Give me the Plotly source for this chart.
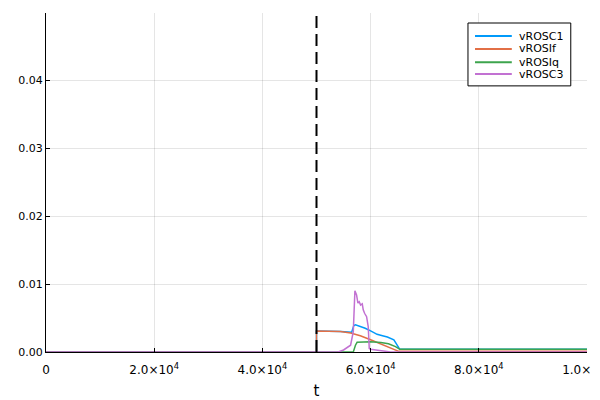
import plotly.graph_objects as go

# ---- data ----
t_c1 = [0, 50000, 50000, 52000, 54500, 56500, 56900, 57200, 58100, 59000, 60000, 61200, 62200, 63100, 64300, 64900, 65400, 70000, 80000, 90000, 100000]
v_c1 = [0, 0, 0.0031, 0.0031, 0.0030, 0.0029, 0.0039, 0.0040, 0.0038, 0.0035, 0.0031, 0.0026, 0.0024, 0.0022, 0.0018, 0.0010, 0.0004, 0.0004, 0.0004, 0.0004, 0.0004]

t_if = [0, 50000, 50000, 52000, 54400, 56300, 58100, 60000, 61900, 63700, 65200, 70000, 80000, 90000, 100000]
v_if = [0, 0, 0.0031, 0.0031, 0.0030, 0.0028, 0.0024, 0.0018, 0.0012, 0.0006, 0.0001, 0.0001, 0.0001, 0.0001, 0.0001]

t_iq = [0, 50000, 56800, 57200, 57500, 60000, 61900, 63300, 64600, 65400, 70000, 80000, 90000, 100000]
v_iq = [0, 0, 0, 0.0010, 0.00142, 0.0015, 0.0014, 0.0012, 0.0008, 0.0004, 0.0004, 0.0004, 0.0004, 0.0004]

t_c3 = [0, 50000, 54000, 55000, 56300, 56800, 56914, 57100, 57407, 57654, 57901, 58148, 58457, 58642, 58889, 59259, 59568, 59753, 60000, 61500, 62800, 63700, 70000, 100000]
v_c3 = [0, 0, 0, 0.0003, 0.0010, 0.0030, 0.0060, 0.0090, 0.0084, 0.0072, 0.0074, 0.0069, 0.0071, 0.0062, 0.0057, 0.0052, 0.0037, 0.0005, 0.0004, 0.0002, 0.0001, 0, 0, 0]

series_names = ["vROSC1", "vROSIf", "vROSIq", "vROSC3"]
series_colors = ["#009AFA", "#E26F46", "#3DA44D", "#C271D2"]

event_t = 50000

x_tickvals = [0, 20000, 40000, 60000, 80000, 100000]
x_ticktext = ["0", "2.0×10<sup>4</sup>", "4.0×10<sup>4</sup>", "6.0×10<sup>4</sup>", "8.0×10<sup>4</sup>", "1.0×10<sup>5</sup>"]
y_tickvals = [0, 0.01, 0.02, 0.03, 0.04]
y_ticktext = ["0.00", "0.01", "0.02", "0.03", "0.04"]

fig = go.Figure()
for t, v, name, col in zip([t_c1, t_if, t_iq, t_c3], [v_c1, v_if, v_iq, v_c3], series_names, series_colors):
    fig.add_trace(go.Scatter(x=t, y=v, mode="lines", name=name, showlegend=False,
                             line=dict(color=col, width=1.5)))

fig.add_shape(type="line", x0=event_t, x1=event_t, y0=0, y1=1, xref="x", yref="paper",
              line=dict(color="black", width=2, dash="12px,6px"))

# ---- hand-drawn legend (compact, Plots.jl style) ----
leg_x0, leg_x1, leg_y0, leg_y1 = 0.780, 0.970, 0.785, 0.9705
line_x0, line_x1, text_x = 0.793, 0.861, 0.871
row_y = [0.932, 0.894, 0.855, 0.820]
fig.add_shape(type="rect", xref="paper", yref="paper", x0=leg_x0, x1=leg_x1, y0=leg_y0, y1=leg_y1,
              line=dict(color="black", width=1), fillcolor="white", layer="above")
for name, col, yy in zip(series_names, series_colors, row_y):
    fig.add_shape(type="line", xref="paper", yref="paper", x0=line_x0, x1=line_x1, y0=yy, y1=yy,
                  line=dict(color=col, width=2), layer="above")
    fig.add_annotation(text=name, xref="paper", yref="paper", x=text_x, y=yy,
                       xanchor="left", yanchor="middle", showarrow=False,
                       font=dict(size=11, color="black"))

fig.update_layout(
    width=592, height=392,
    margin=dict(l=38, r=13, t=5, b=48),
    paper_bgcolor="white", plot_bgcolor="white",
    font=dict(family="DejaVu Sans", size=11, color="black"),
    showlegend=False,
    xaxis=dict(range=[0, 100000], tickvals=x_tickvals, ticktext=x_ticktext,
               showgrid=True, gridcolor="rgba(0,0,0,0.1)", gridwidth=0.5,
               zeroline=False, showline=True, linecolor="black", linewidth=1,
               ticks="inside", ticklen=4, tickcolor="black", ticklabeloverflow="allow",
               ticklabelstandoff=7, tickfont=dict(size=12),
               automargin=False,
               title=dict(text="t", font=dict(size=15), standoff=9)),
    yaxis=dict(range=[0, 0.0499], tickvals=y_tickvals, ticktext=y_ticktext,
               showgrid=True, gridcolor="rgba(0,0,0,0.1)", gridwidth=0.5,
               zeroline=False, showline=True, linecolor="black", linewidth=1,
               ticks="inside", ticklen=4, tickcolor="black", automargin=False),
)

fig.write_html("out.html")
